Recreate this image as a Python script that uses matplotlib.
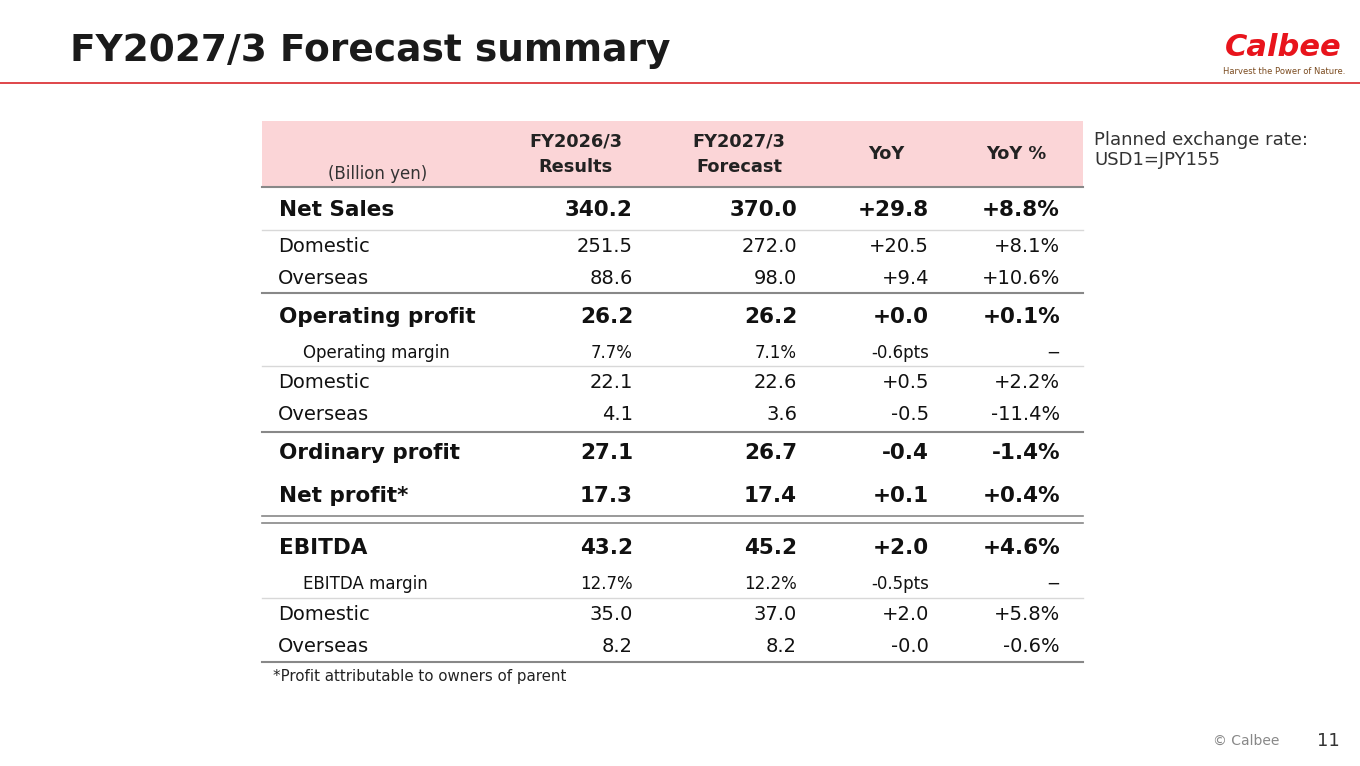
import matplotlib
matplotlib.use("Agg")
import matplotlib.pyplot as plt
from matplotlib.patches import Rectangle

labels = ["Net Sales","Domestic","Overseas","Operating profit","Operating margin","Domestic","Overseas",
          "Ordinary profit","Net profit*","EBITDA","EBITDA margin","Domestic","Overseas"]
fy26 = ["340.2","251.5","88.6","26.2","7.7%","22.1","4.1","27.1","17.3","43.2","12.7%","35.0","8.2"]
fy27 = ["370.0","272.0","98.0","26.2","7.1%","22.6","3.6","26.7","17.4","45.2","12.2%","37.0","8.2"]
yoy = ["+29.8","+20.5","+9.4","+0.0","-0.6pts","+0.5","-0.5","-0.4","+0.1","+2.0","-0.5pts","+2.0","-0.0"]
yoyp = ["+8.8%","+8.1%","+10.6%","+0.1%","\u2212","+2.2%","-11.4%","-1.4%","+0.4%","+4.6%","\u2212","+5.8%","-0.6%"]
kind = ["b","n","n","b","s","n","n","b","b","b","s","n","n"]
headers = ["FY2026/3\nResults","FY2027/3\nForecast","YoY","YoY %"]

row_y = [210,247,279,317,353,383,415,453,496,548,584,615,646]
col_r = [633,797,929,1060]

fig = plt.figure(figsize=(13.6,7.66), dpi=100)
ax = fig.add_axes([0,0,1,1])
ax.set_xlim(0,1360); ax.set_ylim(766,0); ax.axis("off")
F = "DejaVu Sans"

ax.text(70,51,"FY2027/3 Forecast summary",fontsize=27,fontweight="bold",va="center",color="#1a1a1a",family=F)
ax.plot([0,1360],[83,83],color="#d9262a",lw=1.2)
ax.text(1283,47,"Calbee",fontsize=22,fontweight="bold",style="italic",color="#e8141c",ha="center",va="center",family=F)
ax.text(1284,71,"Harvest the Power of Nature.",fontsize=6,color="#7a4a1e",ha="center",va="center",family=F)

ax.add_patch(Rectangle((262,121),821,66,color="#fbd5d7",lw=0))
ax.text(378,174,"(Billion yen)",fontsize=12,ha="center",va="center",color="#333333",family=F)
hx = [576,739,886,1016]
for x,h in zip(hx,headers):
    ax.text(x,154,h,fontsize=12.8,fontweight="bold",ha="center",va="center",linespacing=1.55,color="#222222",family=F)

ax.text(1094,150,"Planned exchange rate:\nUSD1=JPY155",fontsize=13,va="center",linespacing=1.1,color="#333333",family=F)

dark, light = "#888888", "#d8d8d8"
for y,c,w in [(187,dark,1.5),(230,light,1),(293,dark,1.5),(366,light,1),(432,dark,1.5),(516,dark,1.2),(523,dark,1.2),(598,light,1),(662,dark,1.5)]:
    ax.plot([262,1083],[y,y],color=c,lw=w)

for i,lab in enumerate(labels):
    k = kind[i]
    if k=="b":
        fs,fw,lx = 15.5,"bold",279
    elif k=="n":
        fs,fw,lx = 14,"normal",278
    else:
        fs,fw,lx = 12,"normal",303
    y=row_y[i]
    ax.text(lx,y,lab,fontsize=fs,fontweight=fw,va="center",color="#111111",family=F)
    for x,v in zip(col_r,[fy26[i],fy27[i],yoy[i],yoyp[i]]):
        ax.text(x,y,v,fontsize=fs,fontweight=fw,va="center",ha="right",color="#111111",family=F)

ax.text(273,676,"*Profit attributable to owners of parent",fontsize=10.8,va="center",color="#222222",family=F)
ax.text(1246,741,"\u00a9 Calbee",fontsize=10,ha="center",va="center",color="#888888",family=F)
ax.text(1340,741,"11",fontsize=13,ha="right",va="center",color="#333333",family=F)

fig.savefig("out.png",dpi=100)
